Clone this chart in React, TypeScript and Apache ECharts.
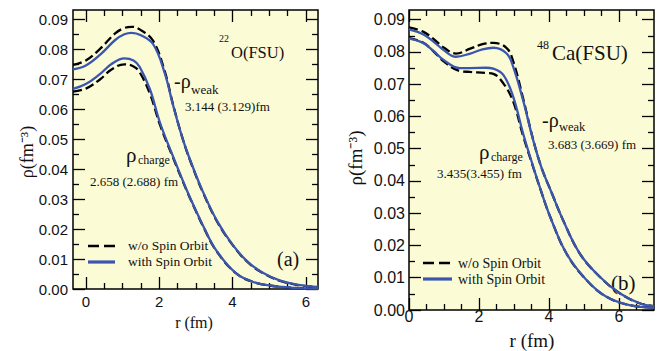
import React, { useEffect, useRef } from 'react';
import * as echarts from 'echarts';

const SERIF = '"Liberation Serif","Times New Roman",Times,serif';
const SANS = '"Liberation Sans",Arial,Helvetica,sans-serif';

// ---------- Panel (a): 22O (FSU) ----------
const rA_weak = [-0.35, 0, 0.4, 0.8, 1.05, 1.25, 1.5, 1.84, 2.15, 2.38, 2.65, 2.9, 3.2, 3.6, 4.0, 4.4, 4.8, 5.3, 5.8, 6.33];
const weakA_withSO = [0.0732, 0.0745, 0.0782, 0.0830, 0.0849, 0.0854, 0.0846, 0.0815, 0.0720, 0.0612, 0.0497, 0.0412, 0.0322, 0.0222, 0.0148, 0.0092, 0.0056, 0.0028, 0.0014, 0.0007];
const weakA_noSO = [0.0747, 0.0762, 0.0802, 0.0852, 0.0870, 0.0874, 0.0863, 0.0826, 0.0726, 0.0614, 0.0497, 0.0410, 0.0320, 0.0220, 0.0147, 0.0091, 0.0055, 0.0027, 0.0013, 0.0006];

const rA_charge = [-0.35, 0, 0.4, 0.7, 1.05, 1.3, 1.47, 1.75, 2.02, 2.38, 2.75, 3.0, 3.2, 3.56, 4.1, 4.6, 5.1, 5.65, 6.33];
const chargeA_withSO = [0.0667, 0.0683, 0.0718, 0.0750, 0.0769, 0.0762, 0.0740, 0.0665, 0.0555, 0.0441, 0.0330, 0.0262, 0.0210, 0.0128, 0.0052, 0.0022, 0.0010, 0.0004, 0.0001];
const chargeA_noSO = [0.0658, 0.0668, 0.0700, 0.0732, 0.0749, 0.0742, 0.0722, 0.0650, 0.0548, 0.0437, 0.0328, 0.0260, 0.0208, 0.0127, 0.0052, 0.0022, 0.0010, 0.0004, 0.0001];

// ---------- Panel (b): 48Ca (FSU) ----------
const rB_weak = [0, 0.4, 0.7, 1.0, 1.34, 1.75, 2.1, 2.41, 2.79, 2.98, 3.26, 3.55, 3.79, 4.07, 4.4, 4.88, 5.45, 6.02, 6.59, 7.0];
const weakB_withSO = [0.0870, 0.0855, 0.0832, 0.0805, 0.0785, 0.0795, 0.0808, 0.0813, 0.0795, 0.0753, 0.0650, 0.0526, 0.0440, 0.0365, 0.0279, 0.0175, 0.0103, 0.0052, 0.0021, 0.0012];
const weakB_noSO = [0.0876, 0.0863, 0.0840, 0.0813, 0.0795, 0.0810, 0.0824, 0.0828, 0.0812, 0.0770, 0.0656, 0.0527, 0.0440, 0.0365, 0.0279, 0.0175, 0.0103, 0.0052, 0.0021, 0.0012];

const rB_charge = [0, 0.4, 0.7, 1.0, 1.45, 1.75, 2.19, 2.41, 2.7, 2.98, 3.26, 3.55, 3.74, 4.03, 4.5, 5.07, 5.64, 6.3, 7.0];
const chargeB_withSO = [0.0841, 0.0828, 0.0803, 0.0774, 0.0750, 0.0750, 0.0751, 0.0748, 0.0728, 0.0660, 0.0547, 0.0444, 0.0380, 0.0290, 0.0175, 0.0093, 0.0041, 0.0015, 0.0007];
const chargeB_noSO = [0.0843, 0.0829, 0.0802, 0.0770, 0.0741, 0.0738, 0.0735, 0.0732, 0.0702, 0.0645, 0.0540, 0.0442, 0.0379, 0.0290, 0.0175, 0.0093, 0.0041, 0.0015, 0.0007];

// ---------- Ticks ----------
const xMajorA = [0, 2, 4, 6];
const xMinorA = [0.5, 1, 1.5, 2.5, 3, 3.5, 4.5, 5, 5.5];
const xMajorB = [0, 2, 4, 6];
const xMinorB = [0.5, 1, 1.5, 2.5, 3, 3.5, 4.5, 5, 5.5, 6.5];
const yMajor = [0, 0.01, 0.02, 0.03, 0.04, 0.05, 0.06, 0.07, 0.08, 0.09];
const yMinor = [0.005, 0.015, 0.025, 0.035, 0.045, 0.055, 0.065, 0.075, 0.085];

const BLUE = '#3b56ae';
const BG = '#fbfbd6';

const pairs = (xs: number[], ys: number[]) => xs.map((x, i) => [x, ys[i]]);

function xAxes(grid: number, min: number, max: number, major: number[], minor: number[], fs: number, margin: number) {
  const base = {
    type: 'value', gridIndex: grid, min, max,
    axisLine: { show: false, onZero: false },
    splitLine: { show: false },
  };
  const tick = (vals: number[], len: number) => ({ show: true, inside: true, length: len, customValues: vals, lineStyle: { color: '#000', width: 1.3 } });
  return [
    { ...base, position: 'bottom', axisTick: tick(major, 12), axisLabel: { show: true, customValues: major, fontFamily: SANS, fontSize: fs, color: '#111', margin } },
    { ...base, position: 'bottom', axisTick: tick(minor, 6), axisLabel: { show: false } },
    { ...base, position: 'top', axisTick: tick(major, 12), axisLabel: { show: false } },
    { ...base, position: 'top', axisTick: tick(minor, 6), axisLabel: { show: false } },
  ];
}

function yAxes(grid: number, fs: number, margin: number) {
  const base = {
    type: 'value', gridIndex: grid, min: 0, max: 0.093,
    axisLine: { show: false, onZero: false },
    splitLine: { show: false },
  };
  const tick = (vals: number[], len: number) => ({ show: true, inside: true, length: len, customValues: vals, lineStyle: { color: '#000', width: 1.3 } });
  return [
    { ...base, position: 'left', axisTick: tick(yMajor, 12), axisLabel: { show: true, customValues: yMajor, fontFamily: SANS, fontSize: fs, color: '#111', margin, formatter: (v: number) => v.toFixed(2) } },
    { ...base, position: 'left', axisTick: tick(yMinor, 6), axisLabel: { show: false } },
    { ...base, position: 'right', axisTick: tick(yMajor, 12), axisLabel: { show: false } },
    { ...base, position: 'right', axisTick: tick(yMinor, 6), axisLabel: { show: false } },
  ];
}

function lineSeries(data: number[][], axis: number, dashed: boolean) {
  return {
    type: 'line', xAxisIndex: axis, yAxisIndex: axis, data,
    smooth: 0.4, showSymbol: false, symbol: 'none', silent: true,
    lineStyle: dashed
      ? { color: '#000', width: 2.3, type: [9, 4] }
      : { color: BLUE, width: 2.3 },
    z: dashed ? 2 : 3,
  };
}

function txt(x: number, y: number, text: string, size: number, extra: any = {}) {
  return {
    type: 'text', x, y, silent: true, ...extra,
    style: {
      text, fontSize: size, fontFamily: SERIF, fill: '#111',
      align: extra.align || 'left', verticalAlign: 'middle',
      textAlign: extra.align || 'left', textVerticalAlign: 'middle',
    },
  };
}

function legendLine(x1: number, x2: number, y: number, dashed: boolean) {
  return {
    type: 'line', silent: true,
    shape: { x1, y1: y, x2, y2: y },
    style: dashed ? { stroke: '#000', lineWidth: 2.6, lineDash: [11, 5] } : { stroke: BLUE, lineWidth: 3.2 },
  };
}

export default function App() {
  const ref = useRef<HTMLDivElement>(null);
  useEffect(() => {
    if (!ref.current) return;
    const chart = echarts.init(ref.current, undefined, { renderer: 'svg' });
    const gridStyle = { show: true, backgroundColor: BG, borderColor: '#000', borderWidth: 1.5 };
    const option: any = {
      animation: false,
      grid: [
        { left: 73, top: 10, width: 245, height: 279, ...gridStyle },
        { left: 409, top: 10, width: 245, height: 300, ...gridStyle },
      ],
      xAxis: [
        ...xAxes(0, -0.35, 6.33, xMajorA, xMinorA, 15, 5),
        ...xAxes(1, 0, 7, xMajorB, xMinorB, 16, -2),
      ],
      yAxis: [
        ...yAxes(0, 15, 5),
        ...yAxes(1, 16, 4),
      ],
      series: [
        lineSeries(pairs(rA_weak, weakA_noSO), 0, true),
        lineSeries(pairs(rA_charge, chargeA_noSO), 0, true),
        lineSeries(pairs(rA_weak, weakA_withSO), 0, false),
        lineSeries(pairs(rA_charge, chargeA_withSO), 0, false),
        lineSeries(pairs(rB_weak, weakB_noSO), 4, true),
        lineSeries(pairs(rB_charge, chargeB_noSO), 4, true),
        lineSeries(pairs(rB_weak, weakB_withSO), 4, false),
        lineSeries(pairs(rB_charge, chargeB_withSO), 4, false),
      ],
      graphic: [
        // panel (a)
        txt(219, 38, '22', 10),
        txt(231, 52, 'O(FSU)', 16.5),
        txt(174, 81, '-ρ', 20),
        txt(191, 89, 'weak', 13),
        txt(185, 106, '3.144 (3.129)fm', 13),
        txt(126, 155, 'ρ', 21),
        txt(138, 160, 'charge', 12),
        txt(90, 181, '2.658 (2.688) fm', 13),
        legendLine(88, 115, 246, true),
        legendLine(88, 115, 262, false),
        txt(128, 245, 'w/o Spin Orbit', 13.5),
        txt(128, 261, 'with Spin Orbit', 13.5),
        txt(277, 259, '(a)', 20),
        txt(194, 322, 'r (fm)', 16, { align: 'center' }),
        txt(27, 152, 'ρ(fm⁻³)', 18, { align: 'center', rotation: Math.PI / 2 }),
        // panel (b)
        txt(537, 45, '48', 12),
        txt(552, 53, 'Ca(FSU)', 21),
        txt(542, 120, '-ρ', 20),
        txt(559, 127, 'weak', 12.5),
        txt(548, 144, '3.683 (3.669) fm', 13),
        txt(479, 152, 'ρ', 21),
        txt(491, 157, 'charge', 12),
        txt(437, 173, '3.435(3.455) fm', 13),
        legendLine(423, 450, 263, true),
        legendLine(423, 452, 279, false),
        txt(458, 263, 'w/o Spin Orbit', 14),
        txt(458, 279, 'with Spin Orbit', 14),
        txt(611, 283, '(b)', 21),
        txt(532, 340, 'r (fm)', 19, { align: 'center' }),
        txt(355, 158, 'ρ(fm⁻³)', 19, { align: 'center', rotation: Math.PI / 2 }),
      ],
    };
    chart.setOption(option);
    return () => chart.dispose();
  }, []);
  return <div ref={ref} style={{ position: 'absolute', left: 0, top: 0, width: 662, height: 351 }} />;
}
